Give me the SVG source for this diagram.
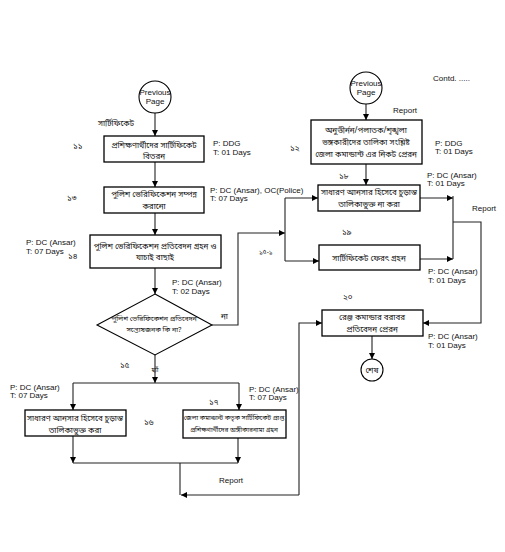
<svg xmlns="http://www.w3.org/2000/svg" width="505" height="552" viewBox="0 0 505 552">
<style>
.box{fill:#fff;stroke:#000;stroke-width:1.3}
.ln{fill:none;stroke:#222;stroke-width:1.1}
.en{font-family:"Liberation Sans",Arial,sans-serif;font-size:8px;fill:#111}
.bn{font-family:"Noto Sans Bengali","Noto Sans","Liberation Sans",sans-serif;font-size:8px;fill:#111}
.sm{font-size:6.5px}
.dm{font-size:7px}
.c{text-anchor:middle}
</style>
<defs>
<marker id="ah" markerUnits="userSpaceOnUse" markerWidth="6" markerHeight="6" refX="6" refY="3" orient="auto">
<path d="M0,0 L6,3 L0,6 z" fill="#000"/>
</marker>
</defs>
<rect width="505" height="552" fill="#fff"/>

<g id="connectors">
<path class="ln" d="M155,113 V136" marker-end="url(#ah)"/>
<path class="ln" d="M155,162 V187" marker-end="url(#ah)"/>
<path class="ln" d="M155,213 V235" marker-end="url(#ah)"/>
<path class="ln" d="M155,268 V294" marker-end="url(#ah)"/>
<path class="ln" d="M212,325 H238 V233 H285" marker-end="url(#ah)"/>
<path class="ln" d="M285,198 V261"/>
<path class="ln" d="M285,198 H318" marker-end="url(#ah)"/>
<path class="ln" d="M285,261 H319" marker-end="url(#ah)"/>
<path class="ln" d="M366,104 V120" marker-end="url(#ah)"/>
<path class="ln" d="M366,164 V185" marker-end="url(#ah)"/>
<path class="ln" d="M420,198 H453" marker-end="url(#ah)"/>
<path class="ln" d="M420,259 H453" marker-end="url(#ah)"/>
<path class="ln" d="M453,196 V259"/>
<path class="ln" d="M453,222 H481 V323 H423" marker-end="url(#ah)"/>
<path class="ln" d="M372,336 V359" marker-end="url(#ah)"/>
<path class="ln" d="M155,355 V383" marker-end="url(#ah)"/>
<path class="ln" d="M73,383 H239"/>
<path class="ln" d="M73,383 V410" marker-end="url(#ah)"/>
<path class="ln" d="M239,383 V410" marker-end="url(#ah)"/>
<path class="ln" d="M73,436 V463" marker-end="url(#ah)"/>
<path class="ln" d="M238,438 V463" marker-end="url(#ah)"/>
<path class="ln" d="M73,463 H238"/>
<path class="ln" d="M180,463 V495"/>
<path class="ln" d="M299,495 H181" marker-end="url(#ah)"/>
<path class="ln" d="M299,495 V323 H322" marker-end="url(#ah)"/>
</g>

<g id="prev-left">
<circle cx="155" cy="97" r="16" fill="#fff" stroke="#000" stroke-width="1.1"/>
<text class="en c" x="155" y="95">Previous</text>
<text class="en c" x="155" y="104">Page</text>
</g>
<text class="bn" x="98" y="126">সার্টিফিকেট</text>

<g id="n11">
<rect class="box" x="104" y="136" width="100" height="26"/>
<text class="bn c" x="154" y="148">প্রশিক্ষণার্থীদের  সার্টিফিকেট</text>
<text class="bn c" x="154" y="159">বিতরন</text>
<text class="bn" x="73" y="149">১১</text>
<text class="en" x="213" y="146">P: DDG</text>
<text class="en" x="213" y="155">T: 01 Days</text>
</g>

<g id="n13">
<rect class="box" x="104" y="187" width="100" height="26"/>
<text class="bn c" x="154" y="197">পুলিশ ভেরিফিকেশন সম্পন্ন</text>
<text class="bn c" x="154" y="209">করানো</text>
<text class="bn" x="67" y="201">১৩</text>
<text class="en" x="210" y="193">P: DC (Ansar), OC(Police)</text>
<text class="en" x="210" y="201">T: 07 Days</text>
</g>

<g id="n14">
<rect class="box" x="90" y="235" width="131" height="33"/>
<text class="bn c" x="155" y="249">পুলিশ ভেরিফিকেশন প্রতিবেদন গ্রহন ও</text>
<text class="bn c" x="155" y="260">যাচাই বাছাই</text>
<text class="en" x="26" y="245">P: DC (Ansar)</text>
<text class="en" x="26" y="254">T: 07 Days</text>
<text class="bn" x="68" y="259">১৪</text>
</g>

<g id="d15">
<text class="en" x="172" y="285">P: DC (Ansar)</text>
<text class="en" x="172" y="294">T: 02 Days</text>
<polygon points="155,294 212,325 155,355 97,325" fill="#fff" stroke="#000" stroke-width="1.1"/>
<text class="bn dm c" x="154" y="321">পুলিশ ভেরিফিকেশন প্রতিবেদন</text>
<text class="bn dm c" x="154" y="332">সন্তোষজনক কি না?</text>
<text class="bn" x="221" y="319">না</text>
<text class="bn" x="120" y="368">১৫</text>
<text class="bn sm c" x="155" y="372">হ্যাঁ</text>
</g>

<g id="n15-1">
<text class="bn sm" x="259" y="254">১৫-১</text>
</g>

<g id="prev-right">
<circle cx="366" cy="88" r="16" fill="#fff" stroke="#000" stroke-width="1.1"/>
<text class="en c" x="366" y="86">Previous</text>
<text class="en c" x="366" y="95">Page</text>
</g>
<text class="en" x="433" y="81">Contd. .....</text>
<text class="en" x="393" y="113">Report</text>

<g id="n12">
<rect class="box" x="311" y="120" width="111" height="44"/>
<text class="bn c" x="366" y="133">অনুত্তীর্নন/পলাতক/শৃঙ্খলা</text>
<text class="bn c" x="366" y="145">ভঙ্গকারীদের তালিকা সংশ্লিষ্ট</text>
<text class="bn c" x="366" y="157">জেলা কমান্ডান্ট এর নিকট প্রেরন</text>
<text class="bn" x="290" y="151">১২</text>
<text class="en" x="435" y="146">P: DDG</text>
<text class="en" x="435" y="154">T: 01 Days</text>
</g>

<g id="n18">
<text class="bn" x="339" y="179">১৮</text>
<text class="en" x="427" y="178">P: DC (Ansar)</text>
<text class="en" x="427" y="186">T: 01 Days</text>
<rect class="box" x="318" y="185" width="102" height="26"/>
<text class="bn c" x="369" y="195">সাধারণ আনসার হিসেবে চুড়ান্ত</text>
<text class="bn c" x="369" y="207">তালিকাভুক্ত না করা</text>
</g>

<g id="n19">
<text class="bn" x="342" y="235">১৯</text>
<rect class="box" x="319" y="245" width="101" height="25"/>
<text class="bn c" x="369" y="261">সার্টিফিকেট ফেরৎ গ্রহন</text>
<text class="en" x="428" y="274">P: DC (Ansar)</text>
<text class="en" x="428" y="283">T: 01 Days</text>
</g>
<text class="en" x="472" y="211">Report</text>

<g id="n20">
<text class="bn" x="343" y="300">২০</text>
<rect class="box" x="322" y="310" width="101" height="26"/>
<text class="bn c" x="372" y="320">রেঞ্জ কমান্ডার বরাবর</text>
<text class="bn c" x="372" y="332">প্রতিবেদন প্রেরন</text>
<text class="en" x="428" y="339">P: DC (Ansar)</text>
<text class="en" x="428" y="348">T: 01 Days</text>
</g>

<g id="end">
<circle cx="372" cy="370" r="11" fill="#fff" stroke="#000" stroke-width="1.1"/>
<text class="bn c" x="372" y="373">শেষ</text>
</g>

<g id="n16">
<text class="en" x="10" y="390">P: DC (Ansar)</text>
<text class="en" x="10" y="398">T: 07 Days</text>
<rect class="box" x="25" y="410" width="101" height="26"/>
<text class="bn c" x="75" y="421">সাধারণ আনসার হিসেবে চুড়ান্ত</text>
<text class="bn c" x="75" y="433">তালিকাভুক্ত করা</text>
<text class="bn" x="144" y="425">১৬</text>
</g>

<g id="n17">
<text class="bn" x="209" y="405">১৭</text>
<text class="en" x="249" y="392">P: DC (Ansar)</text>
<text class="en" x="249" y="400">T: 07 Days</text>
<rect class="box" x="183" y="410" width="103" height="28"/>
<text class="bn sm c" x="234" y="420">জেলা কমান্ডান্ট কতৃক সার্টিফিকেট প্রাপ্ত</text>
<text class="bn sm c" x="234" y="432">প্রশিক্ষণার্থীদের অঙ্গীকারনামা গ্রহন</text>
</g>
<text class="en" x="219" y="483">Report</text>
</svg>
